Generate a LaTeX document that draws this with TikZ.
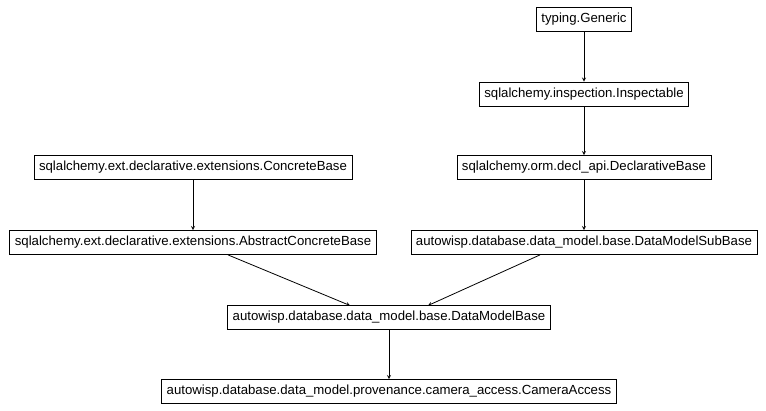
\documentclass[tikz,border=0pt]{standalone}
\usepackage{fontspec}
\setmainfont{Liberation Sans}
\begin{document}
\begin{tikzpicture}[>=stealth,x=1pt,y=-1pt,line width=0.8pt,
  cls/.style={draw,font=\fontsize{13.2}{15}\selectfont,minimum height=24pt,inner xsep=5pt,inner ysep=0pt}]
\useasboundingbox (0,0) rectangle (766,411);
\node[cls](generic) at (584,19){typing.Generic};
\node[cls](inspect) at (584,94){sqlalchemy.inspection.Inspectable};
\node[cls](declbase) at (584,167.5){sqlalchemy.orm.decl\_api.DeclarativeBase};
\node[cls](concrete) at (193,167.5){sqlalchemy.ext.declarative.extensions.ConcreteBase};
\node[cls](abstract) at (193,242.5){sqlalchemy.ext.declarative.extensions.AbstractConcreteBase};
\node[cls](subbase) at (584,242.5){autowisp.database.data\_model.base.DataModelSubBase};
\node[cls](modelbase) at (389,317.5){autowisp.database.data\_model.base.DataModelBase};
\node[cls](camera) at (389,391.5){autowisp.database.data\_model.provenance.camera\_access.CameraAccess};
\draw[->](generic)--(inspect);
\draw[->](inspect)--(declbase);
\draw[->](declbase)--(subbase);
\draw[->](concrete)--(abstract);
\draw[->](abstract.south)+(35,0)--(350,305.5);
\draw[->](subbase.south)+(-44,0)--(428,305.5);
\draw[->](modelbase)--(camera);
\end{tikzpicture}
\end{document}
